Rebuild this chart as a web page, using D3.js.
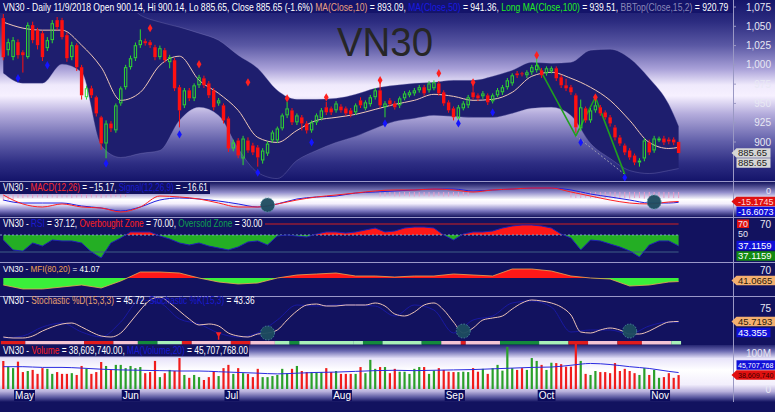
<!DOCTYPE html>
<html>
<head>
<meta charset="utf-8">
<script src="https://cdn.jsdelivr.net/npm/d3@7/dist/d3.min.js"></script>
<style>
  body { margin: 0; background: #12125f; overflow: hidden; }
  svg { display: block; font-family: "Liberation Sans", Arial, sans-serif; }
  text { white-space: pre; }
</style>
</head>
<body>
<div id="chart"></div>
<script>
// ---- daily candles, VN30 (26 Apr - 9 Nov 2018), one entry per session ----
var opens = [1060.6,1019,1010,1029.4,1016.4,1010,1051.5,1045,1041,1021.6,
  1032,1058,1058,1038.5,1010,1025.5,997,958,969.6,958,
  932,898,924,915,950,971,997,1008.6,1025.5,1030.7,
  1029.4,1022.9,1010,1019,1003.4,1006,971,947.5,967,956.6,
  973.5,982.6,976,967,950,947.5,930.6,891.6,902,878.6,
  902,895.5,893,876,885,902,902,917.6,934.5,941,
  925.4,932,924,915,925.4,930.6,945,943.6,941,946,
  943.6,941,938.4,954,943.6,949,958,967,945,954,
  950,947.5,956.6,960.5,963,967,971,967,969.6,976,
  964.4,951.4,943.6,930.6,943.6,947.5,964.4,960.5,959.2,960.5,
  952.7,960.5,964.4,971,976,989,989,986.5,990.4,993,
  993,989,991.7,995.6,983.9,973.5,971,960.5,917.6,943.6,
  928,941,945,938.4,932,918.9,905.9,895.5,889,882.5,
  873.4,878.6,899.4,889,902,904.6,903.3,903.3,900.14];
var highs = [1066,1034,1036,1033,1019,1055,1056,1048,1044,1036,
  1058,1062,1061,1042,1030,1028,1000,973,973,960,
  934,928,927,950,972,1000,1012,1029,1046,1034,
  1032,1026,1025,1022,1013,1009,974,970,970,976,
  987,986,979,970,957,950,933,903,905,908,
  906,899,896,892,901,915,920,937,952,944,
  937,935,927,928,937,944,952,946,953,949,
  946,944,950,958,954,961,970,980,953,957,
  953,959,966,967,970,974,974,979,980,979,
  967,954,946,948,953,961,976,963,966,963,
  963,970,974,983,989,992,991,993,1000,1012,
  996,998,998,998,987,982,974,963,955,946,
  944,958,948,941,935,922,909,898,892,885,
  879,905,903,908,907,908,906,906,900.14];
var lows = [1006,1012,1006,1008,990,1008,1028,1020,1005,1018,
  1028,1045,1033,1004,1006,992,955,955,957,933,
  890,879,913,912,947,968,994,1005,1022,1025,
  1022,1006,1007,1003,995.6,966,918.9,944,953,953,
  970,970,957,941,947,924,887,888,879,870,
  886,883,868,872,882,899,899,915,931,922,
  922,915,911,912,922,928,935,935,938,938,
  934,932,935,944,941,946,955,944,932,946,
  942,944,954,958,960,964,960,964,967,960,
  947,938,928,927,941,944,955,953,956,948,
  950,958,961,968,973,983,985,983,987,990,
  983,986,989,979,970,966,961,912,914,925,
  925,938,934,929,920,902,895,883,877,870,
  868,875,883,886,900,896,897,896,885.65];
var closes = [1009.9,1029.4,1032,1012.5,1012.5,1051.5,1032,1025.5,1010,1032,
  1054,1049,1036,1008.6,1025.5,997,960.5,969.6,960.5,937,
  898,924,917.6,947.5,969.6,997,1008.6,1025.5,1032,1028,
  1025.5,1010,1021.6,1006,1010,969.6,941,967,956.6,973.5,
  983.9,973.5,960.5,945,954,928,891.6,899.4,882.5,904.6,
  889,886.4,880,889,898,912.4,917.6,934.5,943.6,925.4,
  934.5,924,915,925.4,934.5,941,938.4,938.4,950,941,
  937,935.8,947.5,947.5,951.4,958,967,947.5,950,949,
  945,956.6,963,964.4,967,971,963,976,977.4,963,
  950,941,932,945,950,958,958,956.6,963,951.4,
  960.5,967,971,980,986.5,986.5,987.8,990.4,997,999.5,
  986.5,995.6,995.6,982.6,973.5,969.6,964.4,918.9,945,928,
  941,947.5,937,932,924,905.9,898,886.4,880,873.4,
  876,902,886.4,904.6,904.6,899.4,900.7,899.4,885.65];
// volume in millions of shares
var volumes = [77.8,62,58,76,47,50,53,42,58,56,
  42,47,42,42,44,39,64,56,42,47,
  75,64,53,67,67,58,64,58,61,44,
  47,78,33,44,53,50,86,39,31,39,
  33,25,33,50,36,58,67,42,58,44,
  42,33,56,33,33,36,39,56,44,56,
  64,50,47,47,47,47,58,47,50,42,
  42,42,42,61,44,81,56,61,61,44,
  56,48,48,42,56,61,61,42,51,58,
  53,48,47,47,48,47,58,48,56,42,
  58,67,51,117,58,53,58,53,86,78,
  67,53,73,72,69,62,62,125,78,42,
  39,50,47,47,44,72,50,56,50,44,
  39,58,39,53,31,33,44,31,38.61];

// ---- indicator lines, read every 4th session ----
var sIdx = d3.range(0, 137, 4).concat([138]);
var bbUpper = [1110,1116.5,1116.5,1110,1103.5,1094.4,1086.6,1064.5,1055.4,1048.9,
  1041.1,1032,1012.5,995.6,967,955.3,955.3,956.6,961.8,969.6,
  973.5,976.1,977.4,980,980,985.2,993,1003.4,1002.1,1003.4,
  1019,1020.3,1008.6,982.6,948.8,920.79];
var bbLower = [989.1,976.1,976.1,1000.8,990.4,895.5,879.9,885.1,889,928,
  944.9,934.5,891.6,860.4,852.6,876,889,899.4,907.2,917.6,
  926.7,930.6,934.5,933.2,931.9,931.9,937.1,943.6,944.9,934.5,
  898.1,878.6,863,859.1,863,865.6];
var ma10 = [1055.4,1047.6,1045,1045,1025.5,996.9,954,964.4,999.5,1011.2,
  980,963.1,941,905.9,899.4,915,928,931.9,935.8,942.3,
  948.8,954,961.8,959.2,954,955.3,964.4,985.2,990.4,982.6,
  970.9,954,928,899.4,891.6,893.09];
var macdLine = [-3.6,-19.6,-25,-19.6,-25,-26.8,-33.9,-25,-5.4,-7.1,
  -10.7,-17.9,-25,-25,-19.6,-12.5,-7.1,-3.6,0,3.6,
  5.4,5.4,7.1,5.4,1.8,5.4,7.1,8.9,8.9,1.8,
  -5.4,-12.5,-17.9,-19.6,-16.1,-15.17];
var macdSignal = [-12.5,-17.9,-17.9,-17.9,-23.2,-26.8,-32.1,-25,-12.5,-8.9,
  -10.7,-14.3,-19.6,-25,-19.6,-10.7,-7.1,-5.4,0,1.8,
  3.6,5.4,7.1,7.1,3.6,5.4,7.1,8.9,8.9,5.4,
  -1.8,-7.1,-12.5,-17.9,-17.9,-16.61];
var mfi = [32.5,22.5,22.5,27.5,32.5,25,42.5,65,65,62.5,
  50,40,35,37.5,50,57.5,60,62.5,55,55,
  52.5,55,55,60,57.5,55,72.5,72.5,67.5,55,
  50,47.5,30,32.5,40,41.07];
var stochK = [8.9,13.3,33.3,42.2,22.2,11.1,44.4,93.3,86.7,51.1,
  40,20,11.1,20,48.9,82.2,80,82.2,82.2,80,
  57.8,82.2,71.1,20,48.9,57.8,86.7,91.1,77.8,22.2,
  26.7,26.7,17.8,35.6,44.4,43.36];
var volMA = [62,62,60,60,58,55,53,52,51,50,
  50,48,46,44,42,44,46,47,49,51,
  52,51,52,53,54,56,58,60,61,66,
  71,68,62,57,49,45.7];

// ---- read every 2nd session ----
var sIdx2 = d3.range(0, 139, 2);
var rsi = [44.1,32.4,31,40.6,37,44.1,43,43,40.6,30,
  22.9,40.6,46.5,55.5,55.5,55.5,48.8,45.3,40.6,38.2,
  40.6,37,34.7,32.4,35.9,41.8,43,38.2,48.8,50,
  48.8,47.6,51.8,55.5,55.5,53.6,55.5,59.1,62.7,55.5,
  57.3,62.7,64.5,64.5,62.7,50,44.1,51.8,55.5,55.5,
  57.3,62.7,66.4,68.2,68.2,66.4,62.7,51.8,46.5,32.4,
  44.1,43,39.4,35.9,31.2,24.1,38.2,43,43,37.12];
var stochD = [11.1,8.9,8.9,13.3,24.4,33.3,40,42.2,33.3,22.2,
  13.3,11.1,20,44.4,71.1,93.3,100,86.7,68.9,51.1,
  37.8,40,35.6,20,13.3,11.1,17.8,20,26.7,48.9,
  68.9,82.2,84.4,80,80,82.2,82.2,82.2,86.7,80,
  62.2,57.8,66.7,82.2,86.7,71.1,44.4,20,31.1,48.9,
  53.3,57.8,73.3,86.7,93.3,91.1,86.7,77.8,60,22.2,
  20,26.7,31.1,26.7,17.8,17.8,24.4,35.6,44.4,45.72];

// MACD histogram ticks, per session
var macdHist = [-14,-13,-12,-9,-9,-8,-9,-8,-8,-9,
  -8,-9,-8,-8,-9,-8,-8,-9,-8,-8,
  -9,-8,-8,-7,-8,-7,0,0,0,0,
  0,0,0,0,0,0,0,0,0,0,
  0,0,0,0,0,0,0,0,0,0,
  0,0,0,0,0,0,0,0,0,0,
  0,0,0,0,0,0,0,0,0,0,
  0,0,0,0,0,0,0,-6,-6,-5,
  -6,-6,-5,-6,-6,-6,-5,-6,-6,-5,
  -6,-6,-5,-6,-5,-5,0,0,0,0,
  0,0,0,0,0,0,0,0,0,0,
  0,0,0,0,0,0,-8,-9,-9,-8,
  -9,-9,-8,-9,-9,-10,-9,-9,-10,-9,
  -9,-10,-9,-9,-10,-9,-9,-9,-9];

// signal markers
var sellIdx = [30,40,50,58,66,77,89,96,109,121];
var sellVal = [1047.6,1000.8,977.4,956.6,957.9,980,989.1,977.4,1012.5,957.9];
var buyIdx = [3,9,21,36,52,63,78,93,100,118,127];
var buyVal = [982.6,999.5,872.1,909.8,860.4,899.4,924.1,924.1,938.4,899.4,853.9];
var trendIdx = [109,117,121,127];
var trendVal = [1002,908,958,858];
var macdCrossIdx = [54,133];
var macdCrossVal = [-21.4,-16.1];
var stochCrossIdx = [54,94,128];
var stochCrossVal = [20,24.4,24.4];

// stochastic state strip
var stripFrom = [0,5,17,23,28,32,37,39,47,51,56,59,61,72,74,78,86,90,94,95,102,110,116,120,126,131,137];
var stripTo = [4,16,22,27,31,36,38,46,50,55,58,60,71,73,77,85,89,93,94,101,109,115,119,125,130,136,138];
var stripState = ["red","pink","red","pink","dkgreen","ltgreen","red","pink","red","pink","ltgreen","dkgreen","ltgreen","ltgreen","dkgreen","ltgreen","dkgreen","pink","red","pink","dkgreen","ltgreen","red","pink","red","pink","ltgreen"];

var monthNames = ["May","Jun","Jul","Aug","Sep","Oct","Nov"];
var monthIdx = [2,24,45,67,90,109,132];
var priceTicks = [900,925,950,975,1000,1025,1050,1075];

// ---- layout ----
var width = 775, height = 412, axisX = 733;
var navy = "#12125f";
var upCol = "#2fdc2f", downCol = "#ff1010";
var last = opens.length - 1;
var f2 = d3.format(".2f");

var x = d3.scaleLinear().domain([0, 138]).range([3.3, 678.6]);
var yP = d3.scaleLinear().domain([900, 1075]).range([142, 7]);
var yM = d3.scaleLinear().domain([-30, 10]).range([209.8, 187.4]);
var yR = d3.scaleLinear().domain([30, 50, 70]).range([252, 235, 224]);
var yF = d3.scaleLinear().domain([50, 70]).range([278, 270]);
var yS = d3.scaleLinear().domain([0, 100]).range([342, 297]);
var yV = d3.scaleLinear().domain([0, 100]).range([389, 353]);

var svg = d3.select('#chart').append('svg').attr('width', width).attr('height', height);
var defs = svg.append('defs');

function vGrad(id, y1, y2, stops) {
  var g = defs.append('linearGradient').attr('id', id).attr('gradientUnits', 'userSpaceOnUse')
    .attr('x1', 0).attr('x2', 0).attr('y1', y1).attr('y2', y2);
  stops.forEach(function (s) { g.append('stop').attr('offset', s[0]).attr('stop-color', s[1]); });
}
function addClip(id, y0, h) {
  defs.append('clipPath').attr('id', id).append('rect')
    .attr('x', 0).attr('y', y0).attr('width', axisX).attr('height', h);
}

vGrad('gPrice', 0, 181, [[0, '#15156a'], [0.12, '#2c2c80'], [0.25, '#5a58a4'], [0.38, '#a8a0d8'], [0.47, '#f0eafc'],
  [0.53, '#f6f0ff'], [0.63, '#b4acdc'], [0.78, '#6260aa'], [0.9, '#2e2e84'], [1, '#14146a']]);
vGrad('gMacd', 182, 217, [[0, '#14145e'], [0.3, '#9490cc'], [0.5, '#ffffff'], [0.62, '#f2eefc'], [0.82, '#7c78c0'], [1, '#14145e']]);
vGrad('gVol', 344, 402, [[0, '#1a1a68'], [0.12, '#6a68b0'], [0.25, '#e8e4fa'], [0.45, '#ffffff'], [0.7, '#f2eefc'],
  [0.82, '#b8b0dc'], [0.92, '#5a58a0'], [1, '#12125f']]);

addClip('cPrice', 0, 181);
addClip('cMacd', 182, 35);
addClip('cRsiUp', 218, yR(50) - 218);
addClip('cRsiDn', yR(50), 262 - yR(50));
addClip('cMfiUp', 263, yF(50) - 263);
addClip('cMfiDn', yF(50), 296 - yF(50));
addClip('cStoch', 297, 44);

// backgrounds
svg.append('rect').attr('width', width).attr('height', height).attr('fill', navy);
svg.append('rect').attr('width', width).attr('height', 181).attr('fill', 'url(#gPrice)');
svg.append('rect').attr('y', 182).attr('width', width).attr('height', 35).attr('fill', 'url(#gMacd)');
svg.append('rect').attr('y', 345).attr('width', width).attr('height', 57).attr('fill', 'url(#gVol)');

[181.5, 217.5, 262.5, 296.5].forEach(function (y) {
  svg.append('line').attr('x1', 0).attr('x2', width).attr('y1', y).attr('y2', y)
    .attr('stroke', '#9a98c8').attr('stroke-width', 1);
});

// ---- price panel ----
var gp = svg.append('g').attr('clip-path', 'url(#cPrice)');
var bb = sIdx.map(function (d, k) { return { i: d, up: bbUpper[k], lo: bbLower[k], ma: ma10[k] }; });

gp.append('path').datum(bb)
  .attr('d', d3.area().x(function (d) { return x(d.i); }).y0(function (d) { return yP(d.lo); })
    .y1(function (d) { return yP(d.up); }).curve(d3.curveMonotoneX))
  .attr('fill', '#1e1e6e');
['up', 'lo'].forEach(function (k) {
  gp.append('path').datum(bb)
    .attr('d', d3.line().x(function (d) { return x(d.i); }).y(function (d) { return yP(d[k]); }).curve(d3.curveMonotoneX))
    .attr('fill', 'none').attr('stroke', '#8c8ac6').attr('stroke-width', 0.7).attr('opacity', 0.45);
});

svg.append('text').attr('x', 337).attr('y', 56).attr('font-size', 41).attr('fill', '#262626')
  .attr('textLength', 96).attr('lengthAdjust', 'spacingAndGlyphs').text('VN30');

gp.append('path').datum(bb)
  .attr('d', d3.line().x(function (d) { return x(d.i); }).y(function (d) { return yP(d.ma); }).curve(d3.curveMonotoneX))
  .attr('fill', 'none').attr('stroke', '#f0c8b8').attr('stroke-width', 1);

// trend lines
var trend = trendIdx.map(function (d, k) { return [x(d), yP(trendVal[k])]; });
gp.append('path').attr('d', d3.line()([trend[1], trend[3]]))
  .attr('stroke', '#9a9ab0').attr('stroke-dasharray', '2,2').attr('fill', 'none');
gp.append('path').attr('d', d3.line()(trend)).attr('fill', 'none')
  .attr('stroke', '#1fa01f').attr('stroke-width', 1.6);

// candles
var candles = opens.map(function (o, i) {
  return { i: i, o: o, h: highs[i], l: lows[i], c: closes[i], v: volumes[i] };
});
var cw = 3.4;
candles.forEach(function (d) {
  var col = d.c >= d.o ? upCol : downCol;
  var top = yP(Math.max(d.o, d.c)), bot = yP(Math.min(d.o, d.c));
  gp.append('line').attr('x1', x(d.i)).attr('x2', x(d.i)).attr('y1', yP(d.h)).attr('y2', top).attr('stroke', col);
  gp.append('line').attr('x1', x(d.i)).attr('x2', x(d.i)).attr('y1', bot).attr('y2', yP(d.l)).attr('stroke', col);
  if (d.c >= d.o) {
    gp.append('rect').attr('x', x(d.i) - cw / 2 + 0.5).attr('y', top + 0.5).attr('width', cw - 1)
      .attr('height', Math.max(0.5, bot - top - 1)).attr('fill', 'none').attr('stroke', col).attr('stroke-width', 1);
  } else {
    gp.append('rect').attr('x', x(d.i) - cw / 2).attr('y', top).attr('width', cw)
      .attr('height', Math.max(1, bot - top)).attr('fill', col);
  }
});

var diamond = d3.symbol().type(d3.symbolDiamond).size(20);
sellIdx.forEach(function (d, k) {
  gp.append('path').attr('d', diamond()).attr('transform', 'translate(' + x(d) + ',' + yP(sellVal[k]) + ')').attr('fill', '#ff2020');
});
buyIdx.forEach(function (d, k) {
  gp.append('path').attr('d', diamond()).attr('transform', 'translate(' + x(d) + ',' + yP(buyVal[k]) + ')').attr('fill', '#1414ff');
});

// ---- labels: coloured parts, squeezed horizontally to the width seen on the chart ----
function label(y, parts, w, boxW) {
  if (boxW) svg.append('rect').attr('x', 0).attr('y', y - 9).attr('width', boxW).attr('height', 12).attr('fill', navy);
  var t = svg.append('text').attr('font-size', 10);
  parts.forEach(function (p) { t.append('tspan').attr('fill', p[1]).text(p[0]); });
  var nat = t.node().getComputedTextLength();
  t.attr('transform', 'translate(3,' + y + ') scale(' + (w / nat).toFixed(4) + ',1)');
}

svg.append('rect').attr('x', 0).attr('y', 0).attr('width', axisX).attr('height', 13).attr('fill', '#14146a');
label(10.5, [
  ['VN30 - Daily 11/9/2018 Open ' + f2(opens[last]) + ', Hi ' + f2(highs[last]) + ', Lo ' + f2(lows[last]) +
    ', Close ' + f2(closes[last]) + ' (-1.6%) ', '#ffffff'],
  ['MA(Close,10)', '#e8a080'], [' = ' + f2(ma10[ma10.length - 1]) + ', ', '#ffffff'],
  ['MA(Close,50)', '#1a1ae0'], [' = 941.36, ', '#ffffff'],
  ['Long MA(Close,100)', '#22ee22'], [' = 939.51, ', '#ffffff'],
  ['BBTop(Close,15,2)', '#8a88b8'], [' = ' + f2(bbUpper[bbUpper.length - 1]), '#ffffff']
], 727);

// ---- MACD ----
var gm = svg.append('g').attr('clip-path', 'url(#cMacd)');
macdHist.forEach(function (v, i) {
  if (v) gm.append('line').attr('x1', x(i)).attr('x2', x(i)).attr('y1', yM(0) - 1).attr('y2', yM(v))
    .attr('stroke', '#e89cc8').attr('stroke-width', 1);
});
[[macdSignal, '#2020e0'], [macdLine, '#ff2020']].forEach(function (s) {
  gm.append('path').datum(s[0])
    .attr('d', d3.line().x(function (d, k) { return x(sIdx[k]); }).y(function (d) { return yM(d); }).curve(d3.curveMonotoneX))
    .attr('fill', 'none').attr('stroke', s[1]).attr('stroke-width', 1);
});
function crossCircle(g, cx, cy) {
  g.append('circle').attr('cx', cx).attr('cy', cy).attr('r', 7).attr('fill', '#1d4c60').attr('opacity', 0.95)
    .attr('stroke', '#4d8fa0').attr('stroke-dasharray', '1.5,1.5');
}
macdCrossIdx.forEach(function (d, k) { crossCircle(gm, x(d), yM(macdCrossVal[k])); });
label(191, [['VN30 - ', '#fff'], ['MACD(12,26)', '#ff2a2a'], [' = ' + f2(macdLine[macdLine.length - 1]) + ', ', '#fff'],
  ['Signal(12,26,9)', '#1a1ad0'], [' = ' + f2(macdSignal[macdSignal.length - 1]), '#fff']], 205, 210);

// ---- RSI ----
var rsiPts = sIdx2.map(function (d, k) { return { i: d, v: rsi[k] }; });
var rsiArea = d3.area().x(function (d) { return x(d.i); }).y0(yR(50)).y1(function (d) { return yR(d.v); });
svg.append('path').datum(rsiPts).attr('d', rsiArea).attr('fill', '#ff1818').attr('clip-path', 'url(#cRsiUp)');
svg.append('path').datum(rsiPts).attr('d', rsiArea).attr('fill', '#24ae24').attr('clip-path', 'url(#cRsiDn)');
svg.append('line').attr('x1', 0).attr('x2', x(138)).attr('y1', yR(70)).attr('y2', yR(70)).attr('stroke', '#d02020');
svg.append('line').attr('x1', 0).attr('x2', x(138)).attr('y1', yR(30)).attr('y2', yR(30)).attr('stroke', '#3e5f86');
svg.append('line').attr('x1', 0).attr('x2', x(138)).attr('y1', yR(50)).attr('y2', yR(50))
  .attr('stroke', '#7fa3c8').attr('stroke-dasharray', '2,2');
svg.append('path').datum(rsiPts)
  .attr('d', d3.line().x(function (d) { return x(d.i); }).y(function (d) { return yR(d.v); }))
  .attr('fill', 'none').attr('stroke', '#2020b4').attr('stroke-width', 1);
label(227, [['VN30 - ', '#fff'], ['RSI', '#1a1ad0'], [' = ' + f2(rsi[rsi.length - 1]) + ', ', '#fff'],
  ['Overbought Zone', '#ff2020'], [' = 70.00, ', '#fff'], ['Oversold Zone', '#10a050'], [' = 30.00', '#fff']], 260, 265);

// ---- MFI ----
var mfiPts = sIdx.map(function (d, k) { return { i: d, v: mfi[k] }; });
var mfiArea = d3.area().x(function (d) { return x(d.i); }).y0(yF(50)).y1(function (d) { return yF(d.v); });
svg.append('path').datum(mfiPts).attr('d', mfiArea).attr('fill', '#ff1818').attr('clip-path', 'url(#cMfiUp)');
svg.append('path').datum(mfiPts).attr('d', mfiArea).attr('fill', '#3af03a').attr('clip-path', 'url(#cMfiDn)');
svg.append('path').datum(mfiPts)
  .attr('d', d3.line().x(function (d) { return x(d.i); }).y(function (d) { return yF(d.v); }))
  .attr('fill', 'none').attr('stroke', '#f0a850').attr('stroke-width', 0.8);
label(272, [['VN30 - ', '#fff'], ['MFI(80,20)', '#f0a050'], [' = ' + f2(mfi[mfi.length - 1]), '#fff']], 97);

// ---- Stochastic ----
var gs = svg.append('g').attr('clip-path', 'url(#cStoch)');
gs.append('path').datum(stochK)
  .attr('d', d3.line().x(function (d, k) { return x(sIdx[k]); }).y(function (d) { return yS(d); }).curve(d3.curveMonotoneX))
  .attr('fill', 'none').attr('stroke', '#1a1aa8').attr('stroke-width', 0.9);
gs.append('path').datum(stochD)
  .attr('d', d3.line().x(function (d, k) { return x(sIdx2[k]); }).y(function (d) { return yS(d); }).curve(d3.curveMonotoneX))
  .attr('fill', 'none').attr('stroke', '#eec4b8').attr('stroke-width', 1);
stochCrossIdx.forEach(function (d, k) { crossCircle(gs, x(d), yS(stochCrossVal[k])); });
gs.append('line').attr('x1', x(44)).attr('x2', x(44)).attr('y1', yS(20)).attr('y2', yS(5)).attr('stroke', '#ff2020').attr('stroke-width', 1.5);
gs.append('path').attr('d', d3.symbol().type(d3.symbolTriangle).size(14)())
  .attr('transform', 'translate(' + x(44) + ',' + yS(18) + ') rotate(180)').attr('fill', '#ff2020');
var stripCol = { red: '#e01c1c', pink: '#f4c4d4', ltgreen: '#a8f0b8', dkgreen: '#148a3c' };
stripFrom.forEach(function (f, k) {
  svg.append('rect').attr('x', x(f) - 2.45).attr('width', x(stripTo[k]) - x(f) + 4.9)
    .attr('y', 341).attr('height', 3.5).attr('fill', stripCol[stripState[k]]);
});
label(303.5, [['VN30 - ', '#fff'], ['Stochastic %D(15,3,3)', '#e8a070'], [' = ' + f2(stochD[stochD.length - 1]) + ', ', '#fff'],
  ['Stochastic %K(15,3)', '#1a1ad0'], [' = ' + f2(stochK[stochK.length - 1]), '#fff']], 252);

// ---- Volume ----
candles.forEach(function (d) {
  svg.append('rect').attr('x', x(d.i) - 1.1).attr('width', 2.2).attr('y', yV(d.v))
    .attr('height', yV(0) - yV(d.v)).attr('fill', d.c >= d.o ? '#2aa02a' : '#f01c1c');
});
svg.append('path').datum(volMA)
  .attr('d', d3.line().x(function (d, k) { return x(sIdx[k]); }).y(function (d) { return yV(d); }).curve(d3.curveMonotoneX))
  .attr('fill', 'none').attr('stroke', '#2a2ae0').attr('stroke-width', 1);
label(353.5, [['VN30 - ', '#fff'], ['Volume', '#ff2020'], [' = 38,609,740.00, ', '#fff'],
  ['MA(Volume,20)', '#1a1ad0'], [' = 45,707,768.00', '#fff']], 245, 249);

// month labels
monthNames.forEach(function (m, k) {
  var t = svg.append('text').attr('x', x(monthIdx[k]) + 2).attr('y', 399).attr('font-size', 10)
    .attr('fill', '#ffffff').text(m);
  var b = t.node().getBBox();
  svg.insert('rect', function () { return t.node(); })
    .attr('x', b.x - 1).attr('y', b.y).attr('width', b.width + 2).attr('height', b.height).attr('fill', '#0c0c5c');
});

// ---- right axis ----
svg.append('line').attr('x1', axisX + 0.5).attr('x2', axisX + 0.5).attr('y1', 0).attr('y2', 402)
  .attr('stroke', '#9a98c4');
function axisText(y, txt, xr, fs) {
  svg.append('text').attr('x', xr || 771).attr('y', y).attr('dy', '0.35em').attr('text-anchor', 'end')
    .attr('font-size', fs || 10).attr('fill', '#e8e8f4').text(txt);
}
priceTicks.forEach(function (v) {
  svg.append('line').attr('x1', axisX).attr('x2', axisX + 3).attr('y1', yP(v)).attr('y2', yP(v)).attr('stroke', '#9a98c4');
  axisText(yP(v), d3.format(',')(v));
});
axisText(yM(0) - 2, '0', 771, 9);
axisText(yR(70), '70');
axisText(yR(50) - 1.5, '50', 748, 9);
axisText(yF(70), '70');
axisText(yS(75), '75');
axisText(yV(100), '100M');
axisText(yV(0), '0');

// value tags on the axis; font shrinks so the text stays inside the window
function tag(yc, txt, fill, color, arrow, w) {
  var h = 9.5, x0 = axisX + 1.5;
  var pts = arrow
    ? [[x0 - 3, yc], [x0 + 2, yc - h / 2], [x0 + w, yc - h / 2], [x0 + w, yc + h / 2], [x0 + 2, yc + h / 2]]
    : [[x0 + 2, yc - h / 2], [x0 + w, yc - h / 2], [x0 + w, yc + h / 2], [x0 + 2, yc + h / 2]];
  svg.append('path').attr('d', d3.line()(pts) + 'Z').attr('fill', fill);
  var t = svg.append('text').attr('x', x0 + 3.5).attr('y', yc).attr('dy', '0.35em').attr('font-size', 9.5)
    .attr('fill', color).text(txt);
  var room = Math.min(w - 4.5, width - (x0 + 3.5) - 1.5);
  var nat = t.node().getComputedTextLength();
  if (nat > room) t.attr('font-size', (9.5 * room / nat).toFixed(2));
}
tag(yP(closes[last]), f2(closes[last]), '#d6d6d6', '#1a1a1a', true, 36);
tag(yP(closes[last]) + 10, f2(closes[last]), '#d6d6d6', '#1a1a1a', false, 36);
tag(yM(-15.17), '-15.1745', '#e01010', '#ffd6d6', true, 45);
tag(yM(-15.17) + 10, '-16.6073', '#1010d8', '#ffffff', false, 45);
svg.append('rect').attr('x', 737).attr('y', yR(70) - 4.5).attr('width', 12).attr('height', 8.5).attr('fill', '#e01010');
axisText(yR(70), '70', 748, 9);
tag(yR(37.12) - 0.5, '37.1159', '#1010d8', '#ffffff', false, 45);
tag(yR(37.12) + 10, '37.1159', '#128a12', '#ffffff', false, 45);
tag(yF(41.07) - 1, '41.0665', '#f4b070', '#2a1a0a', true, 45);
tag(yS(45.72), '45.7193', '#f4b070', '#2a1a0a', true, 45);
tag(yS(45.72) + 11, '43.355', '#1010d8', '#ffffff', false, 36);
tag(yV(38.61), '38,609,740', '#e01010', '#3a0000', true, 45);
tag(yV(38.61) - 10, '45,707,768', '#1010d8', '#ffffff', false, 45);
</script>
</body>
</html>
